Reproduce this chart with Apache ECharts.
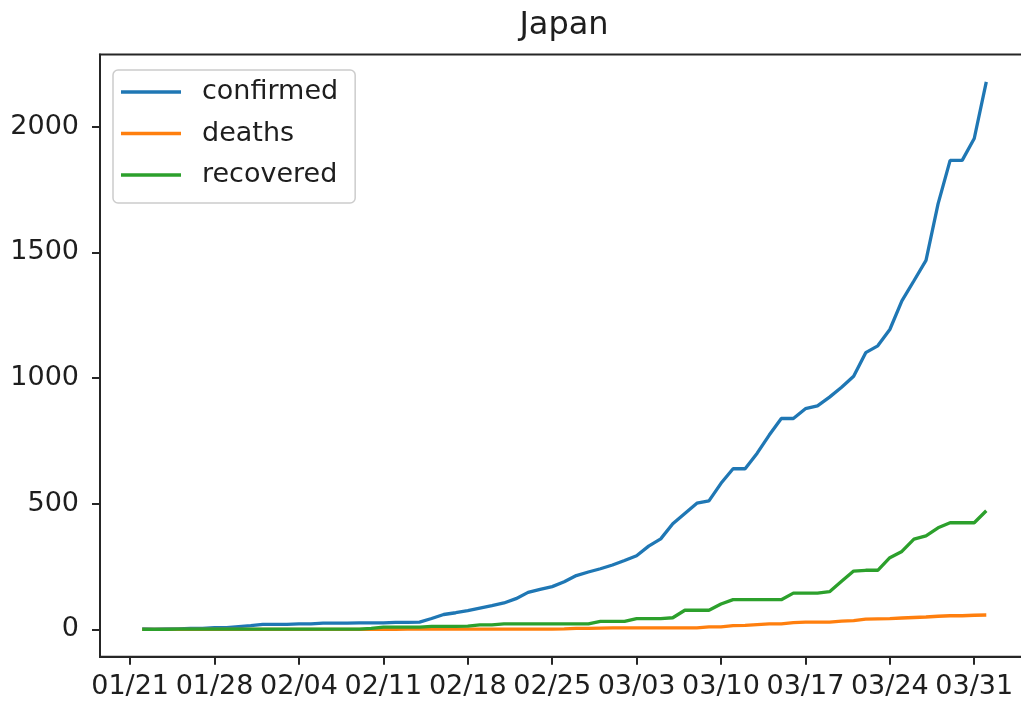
<!DOCTYPE html>
<html>
<head>
<meta charset="utf-8">
<title>Japan</title>
<script src="https://cdn.jsdelivr.net/npm/echarts@6/dist/echarts.min.js"></script>
<style>
  html, body { margin: 0; padding: 0; background: #ffffff; overflow: hidden; }
  /* the canvas runs a little past the right edge of the window, so the right frame line falls outside it */
  #chart { width: 1040px; height: 702px; }
</style>
</head>
<body>
<div id="chart"></div>
<script>
// Daily cumulative counts for Japan, one value per day starting at startDate
const startDate = '2020-01-22';

const confirmed = [
  2, 1, 2, 2, 4, 4, 7, 7, 11, 15,
  20, 20, 20, 22, 22, 25, 25, 25, 26, 26, 26, 28, 28, 29, 43, 59, 66, 74, 84,
  94, 105, 122, 147, 159, 170, 189, 214, 228, 241,
  256, 274, 293, 331, 360, 420, 461, 502, 511, 581, 639, 639, 701, 773, 839,
  839, 878, 889, 924, 963, 1007, 1101, 1128, 1193, 1307, 1387, 1468, 1693,
  1866, 1866, 1953,
  2178
];

const deaths = [
  0, 0, 0, 0, 0, 0, 0, 0, 0, 0,
  0, 0, 0, 0, 0, 0, 0, 0, 0, 0, 0, 0, 1, 1, 1, 1, 1, 1, 1,
  1, 1, 1, 1, 1, 1, 2, 4, 4, 5,
  6, 6, 6, 6, 6, 6, 6, 6, 10, 10, 15, 16, 19, 22, 22,
  27, 29, 29, 29, 33, 35, 41, 42, 43, 45, 47, 49, 52,
  54, 54, 56,
  57
];

const recovered = [
  0, 0, 0, 1, 1, 1, 1, 1, 1, 1,
  1, 1, 1, 1, 1, 1, 1, 1, 1, 4, 9, 9, 9, 9, 12, 12, 12, 13, 18,
  18, 22, 22, 22, 22, 22, 22, 22, 22, 32,
  32, 32, 43, 43, 43, 46, 76, 76, 76, 101, 118, 118, 118, 118, 118,
  144, 144, 144, 150, 191, 232, 235, 235, 285, 310, 359, 372, 404,
  424, 424, 424,
  472
];

// Weekly date ticks, the first one falling on 01/21
const tickOrigin = '2020-01-21';
const tickLabels = ['01/21', '01/28', '02/04', '02/11', '02/18', '02/25',
                    '03/03', '03/10', '03/17', '03/24', '03/31'];
const yTicks = [0, 500, 1000, 1500, 2000];

const DAY = 86400000;
const firstDay = (Date.parse(startDate + 'T00:00:00Z') - Date.parse(tickOrigin + 'T00:00:00Z')) / DAY;
const toPairs = arr => arr.map((v, i) => [firstDay + i, v]);
const tickDays = tickLabels.map((_, k) => k * 7);

// 5% padding around the data range on both axes
const lastDay = firstDay + confirmed.length - 1;
const xPad = (lastDay - firstDay) * 0.05;
const yMaxData = Math.max(...confirmed, ...deaths, ...recovered);
const yPad = yMaxData * 0.05;

const FONT = 'DejaVu Sans';
const INK = '#1e1e1e';
const SPINE = '#262626';

const chart = echarts.init(document.getElementById('chart'), null, { renderer: 'canvas' });

chart.setOption({
  animation: false,
  backgroundColor: '#ffffff',
  title: {
    text: 'Japan',
    left: 559,
    top: 5,
    textAlign: 'center',
    textStyle: { fontFamily: FONT, fontSize: 32, fontWeight: 'normal', color: INK }
  },
  legend: {
    orient: 'vertical',
    left: 113,
    top: 70,
    icon: 'rect',
    itemWidth: 60,
    itemHeight: 3.5,
    itemGap: 11.5,
    padding: [7, 17, 13, 8],
    backgroundColor: 'rgba(255,255,255,0.8)',
    borderColor: '#cccccc',
    borderWidth: 1.5,
    borderRadius: 5,
    textStyle: { fontFamily: FONT, fontSize: 27, color: INK, lineHeight: 30, padding: [0, 0, 0, 16] },
    data: ['confirmed', 'deaths', 'recovered']
  },
  grid: {
    left: 100,
    top: 54.6,
    width: 928.5,
    height: 602.1,
    show: true,
    borderColor: SPINE,
    borderWidth: 2,
    backgroundColor: '#ffffff',
    containLabel: false
  },
  xAxis: {
    type: 'value',
    min: firstDay - xPad,
    max: lastDay + xPad,
    axisLine: { show: true, onZero: false, lineStyle: { color: SPINE, width: 2 } },
    axisTick: { show: true, length: 8, lineStyle: { color: SPINE, width: 2 }, customValues: tickDays },
    axisLabel: {
      customValues: tickDays,
      margin: 17,
      fontFamily: FONT,
      fontSize: 27,
      color: INK,
      formatter: v => tickLabels[Math.round(v / 7)]
    },
    splitLine: { show: false }
  },
  yAxis: {
    type: 'value',
    min: -yPad,
    max: yMaxData + yPad,
    axisLine: { show: true, onZero: false, lineStyle: { color: SPINE, width: 2 } },
    axisTick: { show: true, length: 8, lineStyle: { color: SPINE, width: 2 }, customValues: yTicks },
    axisLabel: {
      customValues: yTicks,
      margin: 21,
      fontFamily: FONT,
      fontSize: 27,
      color: INK,
      formatter: v => String(v)
    },
    splitLine: { show: false }
  },
  series: [
    {
      name: 'confirmed', type: 'line', data: toPairs(confirmed),
      showSymbol: false, symbol: 'none',
      itemStyle: { color: '#1f77b4' },
      lineStyle: { color: '#1f77b4', width: 3.3 }
    },
    {
      name: 'deaths', type: 'line', data: toPairs(deaths),
      showSymbol: false, symbol: 'none',
      itemStyle: { color: '#ff7f0e' },
      lineStyle: { color: '#ff7f0e', width: 3.3 }
    },
    {
      name: 'recovered', type: 'line', data: toPairs(recovered),
      showSymbol: false, symbol: 'none',
      itemStyle: { color: '#2ca02c' },
      lineStyle: { color: '#2ca02c', width: 3.3 }
    }
  ]
});
</script>
</body>
</html>
